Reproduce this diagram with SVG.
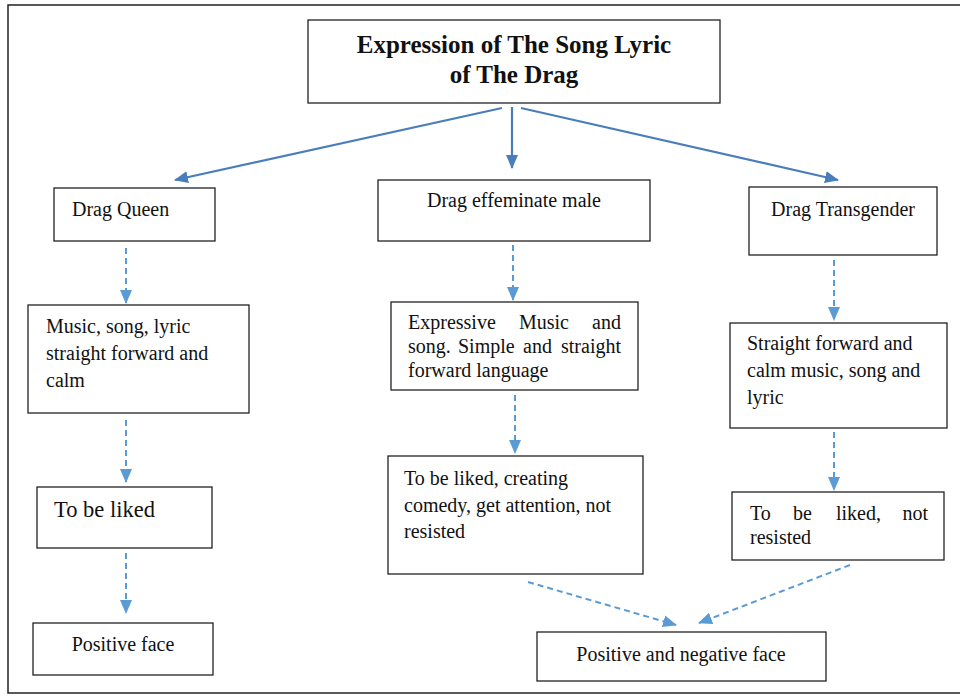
<svg xmlns="http://www.w3.org/2000/svg" width="960" height="697" viewBox="0 0 960 697">
<defs>
<style>
.box{fill:#fff;stroke:#222;stroke-width:1.3}
text{font-family:'Liberation Serif','DejaVu Serif',serif;fill:#111}
.t{font-size:20px}
.tb{font-size:25px;font-weight:bold}
.solid{stroke:#4a7ebb;stroke-width:2.2;fill:none;marker-end:url(#ah1)}
.dash{stroke:#5b9bd5;stroke-width:2;stroke-dasharray:6 4;fill:none;marker-end:url(#ah2)}
</style>
<marker id="ah1" markerUnits="userSpaceOnUse" markerWidth="14" markerHeight="14" viewBox="0 0 14 14" refX="13" refY="7" orient="auto">
<path d="M0,1 L14,7 L0,13 Z" fill="#4a7ebb"/>
</marker>
<marker id="ah2" markerUnits="userSpaceOnUse" markerWidth="14" markerHeight="14" viewBox="0 0 14 14" refX="13" refY="7" orient="auto">
<path d="M0,1 L14,7 L0,13 Z" fill="#5b9bd5"/>
</marker>
</defs>
<rect x="0" y="0" width="960" height="697" fill="#fff"/>
<rect x="8" y="5" width="960" height="688" fill="none" stroke="#222" stroke-width="1.5"/>

<g id="title">
<rect class="box" x="308" y="20" width="412" height="83"/>
<text class="tb" x="514" y="53" text-anchor="middle">Expression of The Song Lyric</text>
<text class="tb" x="514" y="83" text-anchor="middle">of The Drag</text>
</g>

<g id="drag-queen">
<rect class="box" x="54" y="188" width="161" height="53"/>
<text class="t" x="72" y="216">Drag Queen</text>
</g>

<g id="drag-effeminate">
<rect class="box" x="378" y="180" width="272" height="61"/>
<text class="t" x="514" y="207" text-anchor="middle">Drag effeminate male</text>
</g>

<g id="drag-transgender">
<rect class="box" x="749" y="187" width="188" height="68"/>
<text class="t" x="843" y="216" text-anchor="middle">Drag Transgender</text>
</g>

<g id="queen-music">
<rect class="box" x="28" y="305" width="221" height="108"/>
<text class="t" x="46" y="333">Music, song, lyric</text>
<text class="t" x="46" y="360">straight forward and</text>
<text class="t" x="46" y="387">calm</text>
</g>

<g id="effeminate-music">
<rect class="box" x="391" y="302" width="247" height="88"/>
<text class="t" y="329"><tspan x="408">Expressive</tspan><tspan x="519">Music</tspan><tspan x="621" text-anchor="end">and</tspan></text>
<text class="t" y="353"><tspan x="408">song.</tspan><tspan x="458">Simple</tspan><tspan x="523">and</tspan><tspan x="621" text-anchor="end">straight</tspan></text>
<text class="t" x="408" y="377">forward language</text>
</g>

<g id="transgender-music">
<rect class="box" x="730" y="323" width="217" height="105"/>
<text class="t" x="747" y="350">Straight forward and</text>
<text class="t" x="747" y="377">calm music, song and</text>
<text class="t" x="747" y="404">lyric</text>
</g>

<g id="queen-liked">
<rect class="box" x="37" y="487" width="175" height="61"/>
<text class="t" x="54" y="517" style="font-size:22.5px">To be liked</text>
</g>

<g id="effeminate-liked">
<rect class="box" x="388" y="456" width="255" height="118"/>
<text class="t" x="404" y="485">To be liked, creating</text>
<text class="t" x="404" y="512">comedy, get attention, not</text>
<text class="t" x="404" y="538">resisted</text>
</g>

<g id="transgender-liked">
<rect class="box" x="732" y="492" width="212" height="68"/>
<text class="t" y="520"><tspan x="750">To</tspan><tspan x="793">be</tspan><tspan x="836">liked,</tspan><tspan x="928" text-anchor="end">not</tspan></text>
<text class="t" x="750" y="544">resisted</text>
</g>

<g id="positive-face">
<rect class="box" x="33" y="623" width="180" height="52"/>
<text class="t" x="123" y="651" text-anchor="middle">Positive face</text>
</g>

<g id="positive-negative-face">
<rect class="box" x="537" y="632" width="289" height="49"/>
<text class="t" x="681" y="661" text-anchor="middle">Positive and negative face</text>
</g>

<g id="connectors">
<line class="solid" x1="502" y1="108" x2="175" y2="180"/>
<line class="solid" x1="512" y1="107" x2="512" y2="168"/>
<line class="solid" x1="521" y1="108" x2="838" y2="180"/>
<line class="dash" x1="126" y1="248" x2="126" y2="303"/>
<line class="dash" x1="513" y1="245" x2="513" y2="300"/>
<line class="dash" x1="834" y1="260" x2="834" y2="320"/>
<line class="dash" x1="126" y1="420" x2="126" y2="482"/>
<line class="dash" x1="515" y1="395" x2="515" y2="453"/>
<line class="dash" x1="834" y1="432" x2="834" y2="490"/>
<line class="dash" x1="126" y1="553" x2="126" y2="613"/>
<line class="dash" x1="528" y1="582" x2="676" y2="625"/>
<line class="dash" x1="850" y1="565" x2="699" y2="623"/>
</g>
</svg>
